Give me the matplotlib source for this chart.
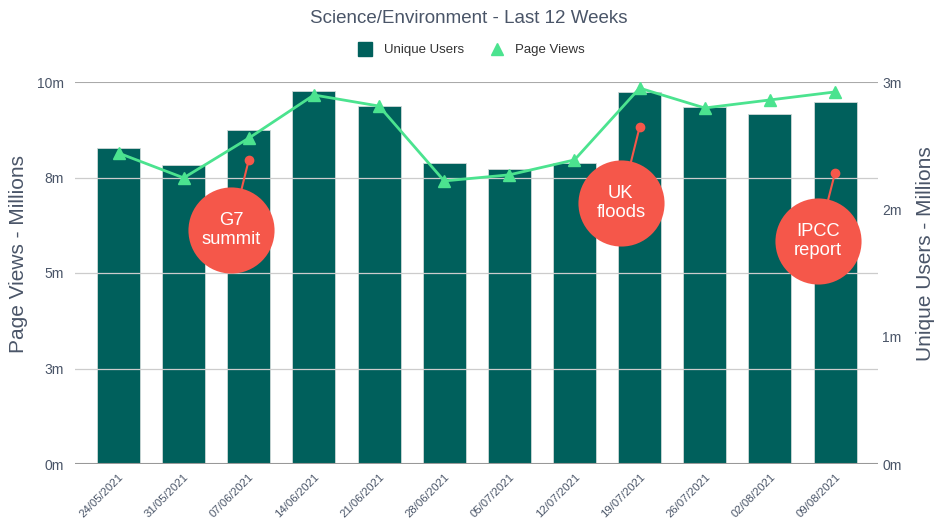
import matplotlib.pyplot as plt
import numpy as np
from matplotlib.ticker import FuncFormatter
from matplotlib.lines import Line2D
from matplotlib.transforms import offset_copy

plt.rcParams['font.family'] = ['Liberation Sans', 'DejaVu Sans']

weeks = ['24/05/2021', '31/05/2021', '07/06/2021', '14/06/2021', '21/06/2021', '28/06/2021',
         '05/07/2021', '12/07/2021', '19/07/2021', '26/07/2021', '02/08/2021', '09/08/2021']
unique_users = [2.48, 2.35, 2.62, 2.93, 2.81, 2.36, 2.32, 2.36, 2.92, 2.80, 2.75, 2.84]  # millions
page_views = [8.14, 7.49, 8.53, 9.66, 9.37, 7.41, 7.57, 7.96, 9.84, 9.32, 9.53, 9.74]  # millions

# annotations: label, week index, page-view level of the dot
events = ['G7\nsummit', 'UK\nfloods', 'IPCC\nreport']
event_idx = [2, 8, 11]
event_val = [7.96, 8.82, 7.62]
event_off = [(-12.5, -50.5), (-13.5, -54.5), (-12.5, -49)]  # points, circle centre vs dot

bar_col = '#00605c'
line_col = '#4be38f'
red = '#f5574a'
txt = '#4a5568'

fig = plt.figure(figsize=(9.37, 5.19), dpi=100)
ax = fig.add_axes([75/937, 55/519, 803/937, 382/519])
ax2 = ax.twinx()

x = np.arange(len(weeks))

# bars on right axis, line on left axis
ax2.bar(x, unique_users, width=0.66, color=bar_col, edgecolor='#cfd8d7', linewidth=0.6, zorder=2)
ax2.set_ylim(0, 3)
ax2.set_yticks([0, 1, 2, 3])
ax2.yaxis.set_major_formatter(FuncFormatter(lambda v, p: f'{int(v)}m'))

ax.set_ylim(0, 10)
ax.set_yticks([0, 2.5, 5, 7.5, 10])
ax.yaxis.set_major_formatter(FuncFormatter(lambda v, p: f'{int(v + 0.5)}m'))
ax.set_xlim(-0.668, len(weeks) - 0.34)
ax.set_xticks(x)
ax.set_xticklabels(weeks, rotation=45, ha='right', rotation_mode='anchor')

for v in [2.5, 5, 7.5]:
    ax.axhline(v, color='#cccccc', linewidth=0.9, zorder=0)
ax.axhline(10, color='#aaaaaa', linewidth=1.5, zorder=0)
ax.axhline(0, color='#999999', linewidth=1.5, zorder=0)

# draw the line above the bars: put ax on top
ax.set_zorder(ax2.get_zorder() + 1)
ax.patch.set_visible(False)
ax.plot(x, page_views, color=line_col, linewidth=2, marker='^', markersize=9, zorder=5)

for lab, i, v, (dx, dy) in zip(events, event_idx, event_val, event_off):
    ax.annotate('', xy=(i, v), xytext=(dx, dy), textcoords='offset points', zorder=6,
                arrowprops=dict(arrowstyle='-', color=red, lw=1.5, shrinkA=0, shrinkB=0))
    ax.plot(i, v, 'o', color=red, markersize=6, zorder=6)
    tr = offset_copy(ax.transData, fig=fig, x=dx, y=dy, units='points')
    ax.plot(i, v, 'o', color=red, markersize=62, markeredgewidth=0, transform=tr, zorder=7)
    ax.text(i, v, lab, transform=tr, ha='center', va='center', fontsize=13.2, color='white',
            linespacing=1.15, zorder=8)

for a in (ax, ax2):
    for s in a.spines.values():
        s.set_visible(False)
    a.tick_params(length=0, labelsize=10, colors=txt)
ax.tick_params(axis='x', pad=6, labelsize=8.2)
ax.tick_params(axis='y', pad=8)
ax2.tick_params(axis='y', pad=3)

ax.set_ylabel('Page Views - Millions', fontsize=15, color=txt)
ax.yaxis.set_label_coords(-0.0585, 0.551)
ax2.set_ylabel('Unique Users - Millions', fontsize=15, color=txt)
ax2.yaxis.set_label_coords(1.047, 0.551)

fig.text(0.5, 0.965, 'Science/Environment - Last 12 Weeks', ha='center', va='center',
         fontsize=13.5, color=txt)

handles = [Line2D([], [], marker='s', linestyle='none', color=bar_col, markersize=10),
           Line2D([], [], marker='^', linestyle='none', color=line_col, markersize=9)]
fig.legend(handles, ['Unique Users', 'Page Views'], loc='center', bbox_to_anchor=(0.5, 0.903),
           ncol=2, frameon=False, fontsize=9.5, handletextpad=0.4, columnspacing=1.5,
           labelcolor='#333333')

fig.savefig('out.png', dpi=100)
